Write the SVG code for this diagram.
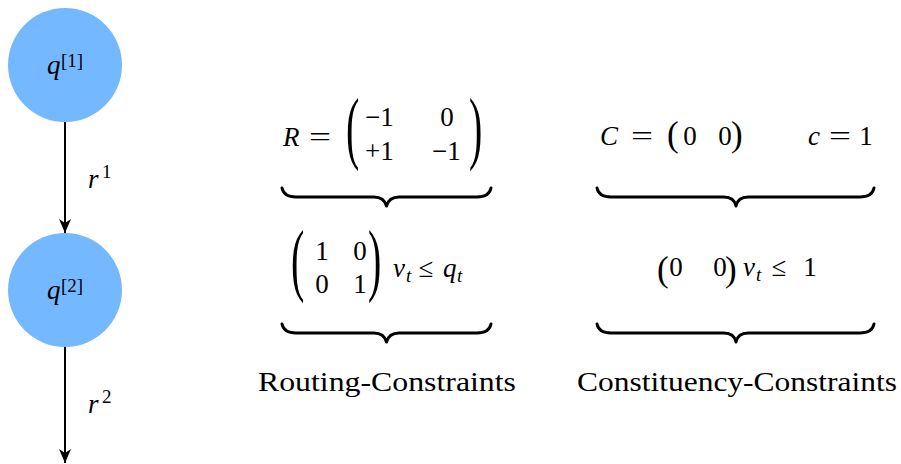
<svg xmlns="http://www.w3.org/2000/svg" width="901" height="464" viewBox="0 0 901 464">
<defs>
<style>
.node{fill:#74b9ff}
.m{font-family:"Liberation Serif","Times New Roman",serif;font-size:27px;fill:#000}
.i{font-style:italic}
.s{font-size:19px}
.c{text-anchor:middle}
.bp{font-size:40px}
.sp{font-size:35px}
.edge{stroke:#000;stroke-width:2;fill:none}
.brace{stroke:#000;stroke-width:3;fill:none;stroke-linecap:round;stroke-linejoin:round}
</style>
<marker id="arr" viewBox="0 0 14 12" refX="14" refY="6" markerWidth="14" markerHeight="12" markerUnits="userSpaceOnUse" orient="auto">
<path d="M0,0 L14,6 L0,12 L4,6 Z" fill="#000"/>
</marker>
</defs>

<g id="edges">
<line class="edge" x1="65" y1="122" x2="65" y2="233" marker-end="url(#arr)"/>
<line class="edge" x1="65" y1="347" x2="65" y2="463" marker-end="url(#arr)"/>
<g id="edge-label-r1"><text class="m i" x="88" y="188">r</text><text class="m s" x="102" y="178">1</text></g>
<g id="edge-label-r2"><text class="m i" x="88" y="413">r</text><text class="m s" x="102" y="403">2</text></g>
</g>

<g id="node-q1">
<circle class="node" cx="65" cy="65" r="57"/>
<text class="m i" x="47" y="74">q</text><text class="m s" x="61" y="67">[1]</text>
</g>
<g id="node-q2">
<circle class="node" cx="65" cy="290" r="57"/>
<text class="m i" x="47" y="299">q</text><text class="m s" x="61" y="292">[2]</text>
</g>

<g id="routing-matrix">
<text class="m i" x="283" y="146">R</text>
<text class="m c" x="320" y="146" textLength="22" lengthAdjust="spacingAndGlyphs">=</text>
<text class="m bp" transform="translate(346,154) scale(1,2)">(</text>
<text class="m" x="365" y="126">−1</text>
<text class="m c" x="447" y="126">0</text>
<text class="m" x="365" y="160">+1</text>
<text class="m" x="432" y="160">−1</text>
<text class="m bp" transform="translate(469,154) scale(1,2)">)</text>
</g>

<g id="constituency-matrix">
<text class="m i" x="600" y="145">C</text>
<text class="m c" x="642" y="145" textLength="22" lengthAdjust="spacingAndGlyphs">=</text>
<text class="m sp" x="667" y="146">(</text>
<text class="m c" x="690" y="145">0</text>
<text class="m c" x="725" y="145">0</text>
<text class="m sp" x="731" y="146">)</text>
<text class="m i" x="808" y="145">c</text>
<text class="m c" x="840" y="145" textLength="22" lengthAdjust="spacingAndGlyphs">=</text>
<text class="m c" x="866" y="145">1</text>
</g>

<g id="routing-inequality">
<text class="m bp" transform="translate(291,286) scale(1,2)">(</text>
<text class="m c" x="322" y="260">1</text>
<text class="m c" x="360" y="260">0</text>
<text class="m c" x="322" y="293">0</text>
<text class="m c" x="360" y="293">1</text>
<text class="m bp" transform="translate(368,286) scale(1,2)">)</text>
<text class="m i" x="393" y="277">v</text><text class="m i s" x="406" y="282">t</text>
<text class="m c" x="426" y="277">≤</text>
<text class="m i" x="443" y="277">q</text><text class="m i s" x="457" y="282">t</text>
</g>

<g id="constituency-inequality">
<text class="m sp" x="657" y="281">(</text>
<text class="m c" x="676" y="276">0</text>
<text class="m c" x="720" y="276">0</text>
<text class="m sp" x="725" y="281">)</text>
<text class="m i" x="743" y="276">v</text><text class="m i s" x="756" y="281">t</text>
<text class="m c" x="779" y="276">≤</text>
<text class="m c" x="810" y="276">1</text>
</g>

<g id="braces">
<path class="brace" d="M282,188 Q284,197 296,197 L374,197 Q384,197 386.5,206 Q389,197 399,197 L477,197 Q489,197 491,188"/>
<path class="brace" d="M282,324 Q284,333 296,333 L374,333 Q384,333 386.5,342 Q389,333 399,333 L477,333 Q489,333 491,324"/>
<path class="brace" d="M597,188 Q599,197 611,197 L724,197 Q734,197 736,206 Q738,197 748,197 L860,197 Q872,197 874,188"/>
<path class="brace" d="M597,324 Q599,333 611,333 L724,333 Q734,333 736,342 Q738,333 748,333 L860,333 Q872,333 874,324"/>
</g>

<g id="labels">
<text class="m" x="258" y="391" textLength="258" lengthAdjust="spacingAndGlyphs">Routing-Constraints</text>
<text class="m" x="577" y="391" textLength="320" lengthAdjust="spacingAndGlyphs">Constituency-Constraints</text>
</g>
</svg>
